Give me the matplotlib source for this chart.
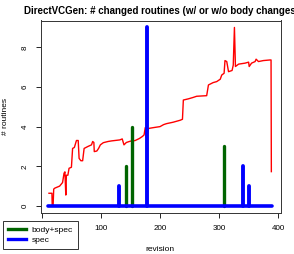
import matplotlib
matplotlib.use("Agg")
import matplotlib.pyplot as plt
from matplotlib.lines import Line2D

plt.rcParams['font.family'] = ['Liberation Sans', 'DejaVu Sans']

# Total changed routines (red line)
red_rev = [12, 17, 17.5, 19, 20, 22, 30, 35, 37.5, 39, 40.5, 41.5, 44, 46, 50, 52, 55,
           58.5, 61.5, 63, 66, 69, 71.5, 78, 84, 86, 88, 88.7, 93, 96, 99, 104, 112,
           118, 132, 136, 139, 143, 148, 152, 153, 154, 158, 165, 170, 173, 175,
           176.5, 178, 180, 183, 189, 200, 206, 211, 222, 234, 238, 239.5, 248, 256,
           262, 279, 282, 290, 296, 302, 304.5, 308.5, 310, 313, 316, 322, 324, 326,
           327.7, 333, 344, 350, 351, 355, 361, 362.7, 366.7, 375, 386, 388, 388.5]
red_val = [0.64, 0.64, 0.02, 0.02, 0.85, 0.9, 1.0, 1.18, 1.65, 1.72, 0.55, 1.55, 1.55,
           1.9, 1.95, 2.9, 2.95, 3.3, 3.3, 2.4, 2.28, 2.28, 2.9, 3.0, 3.08, 3.25, 3.2,
           2.74, 2.77, 2.9, 3.08, 3.19, 3.25, 3.28, 3.33, 3.38, 3.08, 3.2, 3.25, 3.28,
           2.74, 3.28, 3.3, 3.4, 3.5, 3.58, 3.95, 3.45, 3.5, 3.9, 3.92, 3.95, 4.0, 4.1,
           4.15, 4.22, 4.32, 4.37, 5.34, 5.4, 5.47, 5.53, 5.56, 6.1, 6.22, 6.27, 6.39,
           6.6, 6.69, 7.33, 7.28, 6.77, 6.83, 7.1, 9.0, 7.03, 7.15, 7.2, 7.25, 7.03,
           7.2, 7.28, 7.4, 7.28, 7.33, 7.36, 7.36, 1.73]

# body+spec changes (green)
green_rev = [142, 152, 309]
green_val = [2, 4, 3]

# spec changes (blue)
blue_rev = [11, 130, 177.5, 341, 351, 390]
blue_val = [0, 1, 9, 2, 1, 0]

x_ticks = [0, 100, 200, 300, 400]
x_ticklabels = ["", "100", "200", "300", "400"]  # "0" is hidden under the legend
y_ticks = [0, 2, 4, 6, 8]

title = "DirectVCGen: # changed routines (w/ or w/o body changes)"
xlabel = "revision"
ylabel = "# routines"
legend_labels = ["body+spec", "spec"]

W, H = 294, 254
fig = plt.figure(figsize=(W / 100, H / 100), dpi=100)
ax = fig.add_axes([41 / W, 1 - 212.5 / H, (280.5 - 41) / W, (212.5 - 20.5) / H])

ax.plot(red_rev, red_val, color='#FF0000', lw=1.0, zorder=2)
ax.vlines(green_rev, 0, green_val, color='#006400', lw=2.4, capstyle='round', zorder=3)
ax.vlines(blue_rev, 0, blue_val, color='#0000FF', lw=2.8, capstyle='round', zorder=4)
ax.hlines(0, min(blue_rev), max(blue_rev), color='#0000FF', lw=2.6, capstyle='round', zorder=4)

ax.set_xlim(-1.5, 404)
ax.set_ylim(-0.33, 9.35)
ax.set_xticks(x_ticks)
ax.set_xticklabels(x_ticklabels)
ax.set_yticks(y_ticks)
ax.tick_params(axis='both', labelsize=5.8, length=3.6, width=0.6, direction='out')
ax.tick_params(axis='x', pad=5.5)
ax.tick_params(axis='y', pad=5.5)
for lab in ax.get_yticklabels():
    lab.set_rotation(90)
    lab.set_va('center')
for s in ax.spines.values():
    s.set_linewidth(0.7)
    s.set_color('#333333')

fig.text(162 / W, 1 - 14.5 / H, title, ha='center', va='baseline',
         fontsize=7.0, fontweight='bold')
fig.text(160 / W, 1 - 249.5 / H, xlabel, ha='center', va='center', fontsize=6.0)
fig.text(5.5 / W, 1 - 116 / H, ylabel, ha='center', va='center', fontsize=6.0, rotation=90)

handles = [Line2D([], [], color='#006400', lw=2.4), Line2D([], [], color='#0000FF', lw=2.4)]
leg = fig.legend(handles, legend_labels, loc='upper left',
                 bbox_to_anchor=(2.7 / W, 1 - 221 / H), borderaxespad=0,
                 fontsize=6.1, fancybox=False, framealpha=1, edgecolor='#333333',
                 handlelength=2.17, handletextpad=0.66, labelspacing=0.25,
                 borderpad=0.6)
leg.get_frame().set_linewidth(0.7)
leg.set_zorder(10)

fig.savefig("out.png", dpi=100)
